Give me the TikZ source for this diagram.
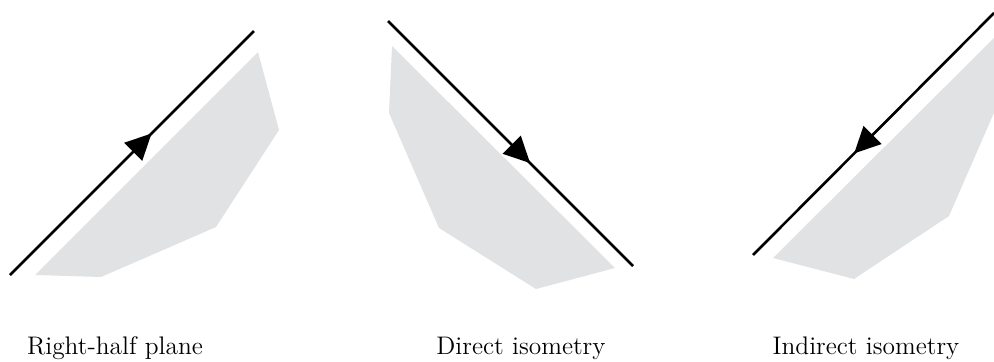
\documentclass[tikz,border=0pt]{standalone}
\usetikzlibrary{arrows.meta,decorations.markings}
\definecolor{halfgray}{RGB}{225,226,228}
\tikzset{
  axis/.style={line width=1.3pt, postaction={decorate},
    decoration={markings, mark=at position 0.58 with {\arrow{Triangle[length=13pt,width=12.5pt]}}}},
  caption/.style={anchor=base, inner sep=0pt, font=\fontsize{12.7}{15}\selectfont}
}
\begin{document}
\begin{tikzpicture}[x=0.5pt, y=-0.5pt]
\useasboundingbox (0,0) rectangle (994,361);
\clip (0,0) rectangle (994,361);

\fill[halfgray] (35,275) -- (258,52) -- (279,130) -- (216,227) -- (101,277) -- cycle;
\fill[halfgray] (392,46) -- (615,268) -- (536,289) -- (439,228) -- (389,113) -- cycle;
\fill[halfgray] (773,258) -- (1010,22) -- (1010,76) -- (949,216) -- (854,279) -- cycle;

\coordinate (a1) at (10,275);  \coordinate (b1) at (254,31);
\coordinate (a2) at (388,21);  \coordinate (b2) at (633,266);
\coordinate (a3) at (994,13);  \coordinate (b3) at (753,255);
\draw[axis] (a1) -- (b1);
\draw[axis] (a2) -- (b2);
\draw[axis] (a3) -- (b3);

\node[caption] (l1) at (115,354) {Right-half plane};
\node[caption] (l2) at (521,354) {Direct isometry};
\node[caption] (l3) at (866,354) {Indirect isometry};
\end{tikzpicture}
\end{document}
